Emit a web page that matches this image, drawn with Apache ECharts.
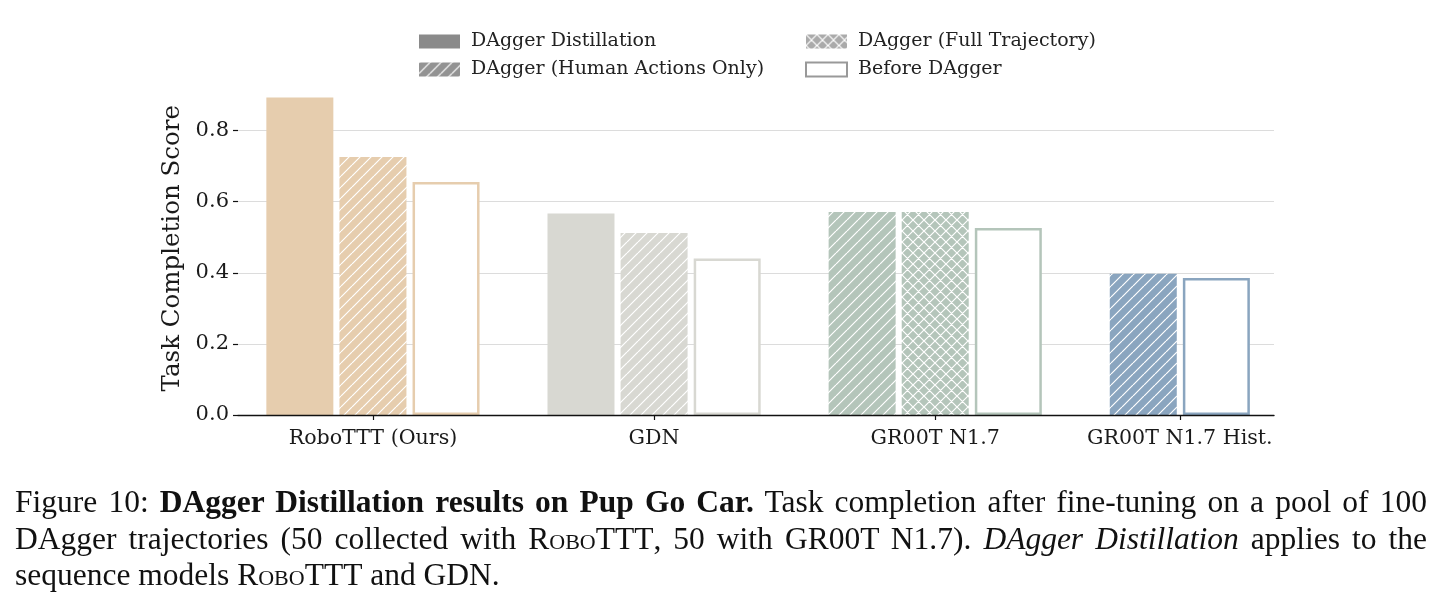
<!DOCTYPE html>
<html>
<head>
<meta charset="utf-8">
<script src="https://cdn.jsdelivr.net/npm/echarts@6/dist/echarts.min.js"></script>
<style>
  html, body { margin: 0; padding: 0; background: #fff; }
  #chart { position: absolute; left: 0; top: 0; width: 1442px; height: 614px; }
  #caption {
    position: absolute; left: 15px; top: 484px; width: 1412px;
    font-family: "Liberation Serif", serif; font-size: 31.5px; line-height: 36.5px;
    color: #111;
  }
  #caption .line { text-align: justify; text-align-last: justify; white-space: nowrap; }
  #caption .last { text-align: left; }
  .sc { font-variant: small-caps; }
</style>
</head>
<body>
<div id="chart"></div>
<div id="caption">
  <div class="line">Figure 10: <b>DAgger Distillation results on Pup Go Car.</b> Task completion after fine-tuning on a pool of 100</div>
  <div class="line">DAgger trajectories (50 collected with <span class="sc">RoboTTT</span>, 50 with GR00T N1.7). <i>DAgger Distillation</i> applies to the</div>
  <div class="last">sequence models <span class="sc">RoboTTT</span> and GDN.</div>
</div>
<script>
// groups along the x axis
const categories = ['RoboTTT (Ours)', 'GDN', 'GR00T N1.7', 'GR00T N1.7 Hist.'];
const methods = ['DAgger Distillation', 'DAgger (Human Actions Only)', 'DAgger (Full Trajectory)', 'Before DAgger'];

// task completion score per group, null = not run
const distillation = [0.893, 0.567, null, null];
const humanOnly    = [0.726, 0.512, 0.571, 0.397];
const fullTraj     = [null, null, 0.571, null];
const beforeDagger = [0.655, 0.440, 0.526, 0.385];

const yTicks = [0, 0.2, 0.4, 0.6, 0.8];

const groupColors = ['#e6cdae', '#d8d8d2', '#b4c5ba', '#8aa5bf'];

const PITCH = 0.26;

function hatch(bg, cross) {
  const s = 11;
  const c = document.createElement('canvas');
  c.width = s; c.height = s;
  const ctx = c.getContext('2d');
  ctx.fillStyle = bg;
  ctx.fillRect(0, 0, s, s);
  ctx.strokeStyle = '#fff';
  ctx.lineWidth = 1.2;
  ctx.beginPath();
  for (let k = -1; k <= 1; k++) {
    ctx.moveTo(k * s, s); ctx.lineTo(k * s + s, 0);
    if (cross) { ctx.moveTo(k * s, 0); ctx.lineTo(k * s + s, s); }
  }
  ctx.stroke();
  return { image: c, repeat: 'repeat' };
}

// bars of a group sit next to each other from the left, tick at their middle
const values = [distillation, humanOnly, fullTraj, beforeDagger];
const positions = values.map(() => []);
const tickPos = categories.map((name, g) => {
  let slot = 0, sum = 0;
  values.forEach((arr, m) => {
    if (arr[g] == null) return;
    const x = g + (slot - 1) * PITCH;
    positions[m][g] = x;
    sum += x; slot++;
  });
  return sum / slot;
});

function styleFor(m, g) {
  const col = groupColors[g];
  if (m === 0) return { color: col };
  if (m === 1) return { color: hatch(col, false) };
  if (m === 2) return { color: hatch(col, true) };
  return { color: '#fff', borderColor: col, borderWidth: 2.5 };
}

const legendStyles = [
  { color: '#8a8a8a' },
  { color: hatch('#939393', false) },
  { color: hatch('#aaaaaa', true) },
  { color: '#fff', borderColor: '#999', borderWidth: 2.5 }
];

const series = methods.map((name, m) => ({
  name: name,
  type: 'bar',
  barWidth: 67,
  barGap: '-100%',
  itemStyle: legendStyles[m],
  emphasis: { disabled: true },
  data: values[m].map((v, g) => v == null ? null : {
    value: [positions[m][g], v],
    itemStyle: styleFor(m, g)
  }).filter(d => d)
}));

const FONT = 'DejaVu Serif';
const legendBase = {
  top: 32, orient: 'vertical', itemWidth: 41, itemHeight: 14, itemGap: 9,
  padding: 0, icon: 'rect', selectedMode: false,
  textStyle: { fontFamily: FONT, fontSize: 19, color: '#222', padding: [0, 0, 0, 6] }
};
const chart = echarts.init(document.getElementById('chart'));
chart.setOption({
  animation: false,
  legend: [
    Object.assign({}, legendBase, { left: 419, data: [methods[0], methods[1]] }),
    Object.assign({}, legendBase, { left: 805, data: [methods[2], methods[3]] })
  ],
  grid: { left: 238, right: 168, top: 81.5, bottom: 199 },
  xAxis: {
    type: 'value',
    min: -0.48,
    max: 3.205,
    z: 5,
    splitLine: { show: false },
    axisLine: { show: true, onZero: false, lineStyle: { color: '#111', width: 1.4 } },
    axisTick: { show: true, length: 5, lineStyle: { color: '#111', width: 1.2 }, customValues: tickPos },
    axisLabel: {
      customValues: tickPos,
      margin: 13,
      fontFamily: FONT, fontSize: 20.6, color: '#1a1a1a',
      formatter: function (v) {
        let best = 0;
        tickPos.forEach((t, i) => { if (Math.abs(t - v) < Math.abs(tickPos[best] - v)) best = i; });
        return categories[best];
      }
    }
  },
  yAxis: {
    type: 'value',
    min: 0,
    max: 0.938,
    name: 'Task Completion Score',
    nameLocation: 'middle',
    nameGap: 47,
    nameTextStyle: { fontFamily: FONT, fontSize: 24.5, color: '#1a1a1a' },
    axisLine: { show: false, onZero: false },
    axisTick: { show: true, length: 5, lineStyle: { color: '#111', width: 1.2 }, customValues: yTicks },
    axisLabel: {
      customValues: yTicks,
      margin: 9,
      fontFamily: FONT, fontSize: 21, color: '#1a1a1a',
      formatter: v => v.toFixed(1)
    },
    splitLine: { show: true, lineStyle: { color: '#dcdcdc', width: 1.2 } }
  },
  series: series
});
</script>
</body>
</html>
